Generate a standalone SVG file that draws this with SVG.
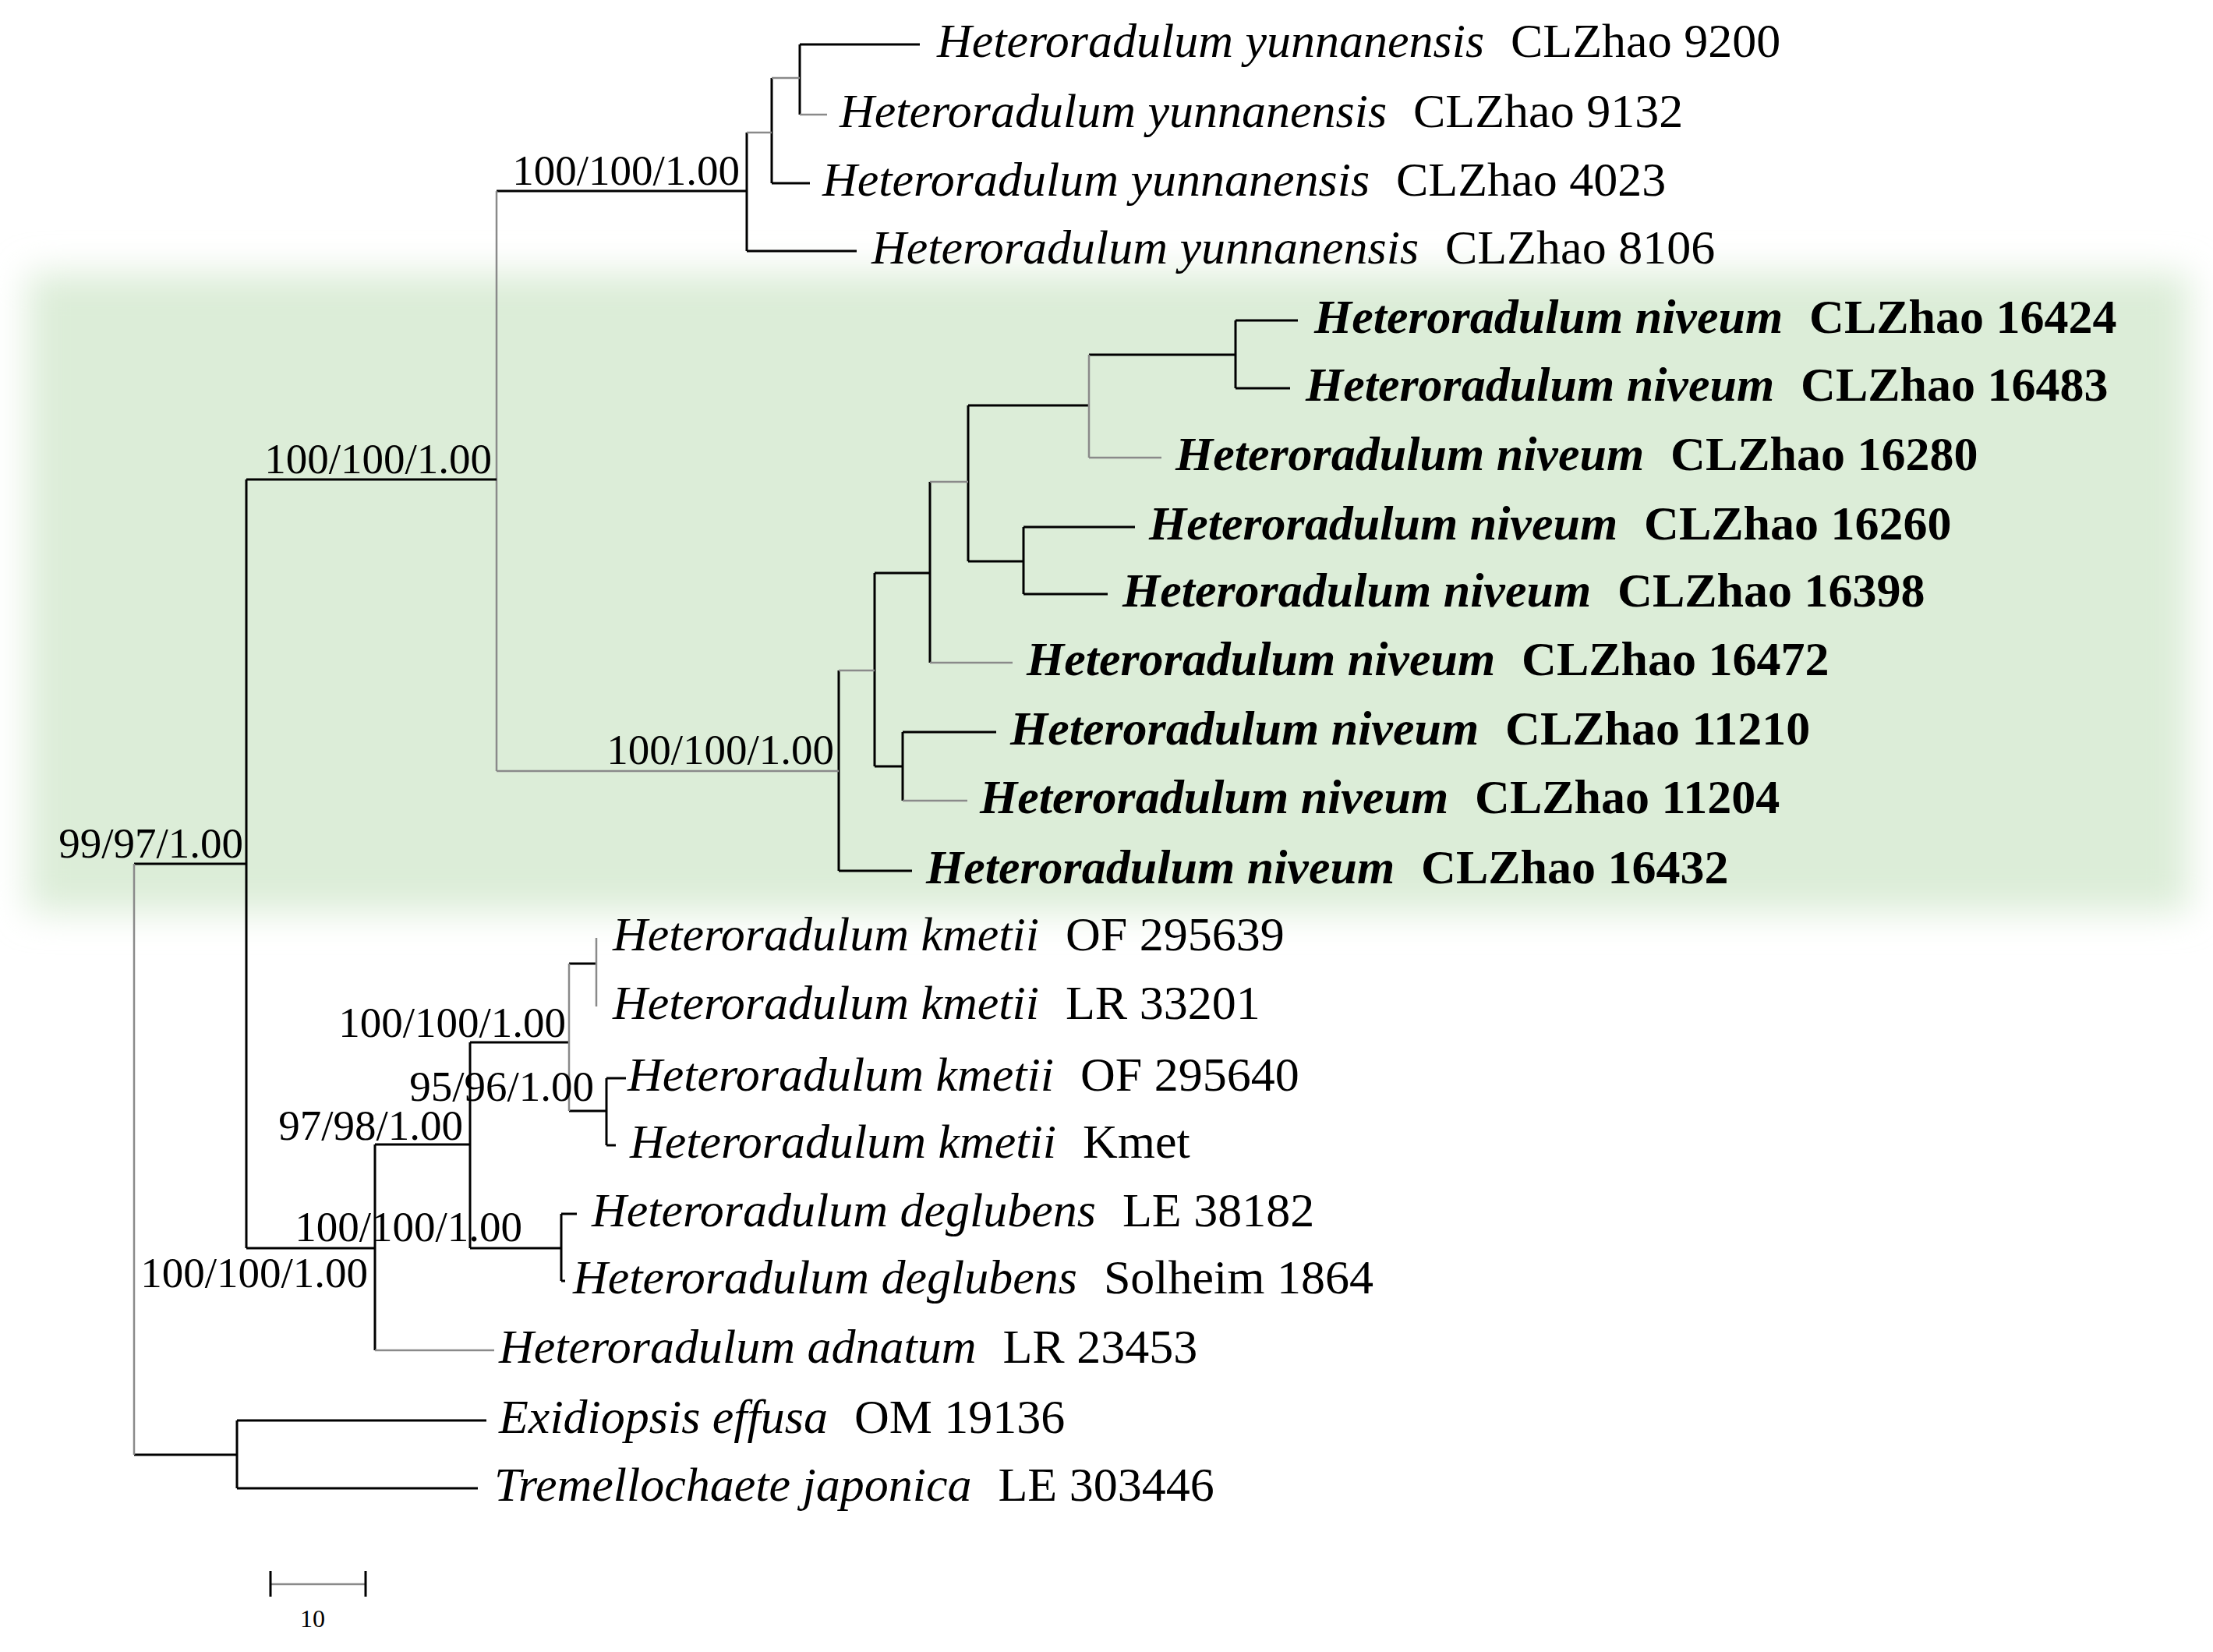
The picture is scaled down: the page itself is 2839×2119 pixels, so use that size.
<svg xmlns="http://www.w3.org/2000/svg" width="2839" height="2119" viewBox="0 0 2839 2119">
<style>
.tx{font-family:"Liberation Serif","Times New Roman",serif;font-size:62px;fill:#000}
.b{font-weight:bold}
.i{font-style:italic}
.sup{font-family:"Liberation Serif","Times New Roman",serif;font-size:55px;fill:#000;text-anchor:end}
.k{stroke:#000;stroke-width:3;fill:none}
.g{stroke:#8a8a8a;stroke-width:2.5;fill:none}
.scl{font-family:"Liberation Serif","Times New Roman",serif;font-size:32px;fill:#000;text-anchor:middle}
</style>
<defs>
<filter id="soft" x="-10%" y="-25%" width="120%" height="150%">
<feGaussianBlur stdDeviation="23"/>
</filter>
</defs>
<rect width="2839" height="2119" fill="#fff"/>
<rect id="highlight" x="36" y="350" width="2772" height="820" fill="#dcedd8" filter="url(#soft)"/>

<g id="connectors">
<path class="k" d="M1026 57H1180M1026 57V147M958 245H637M958 170V322M958 322H1099M990 235H1039M990 100V235"/>
<path class="g" d="M1026 147H1061M990 100H1026M958 170H990"/>
<path class="k" d="M1585 411H1665M1585 411V498M1585 498H1655M1397 455H1585M1242 520H1397M1313 676H1456M1313 676V762M1313 762H1421M1242 720H1313M1242 520V720M1193 735H1122M1193 618V850M1158 939H1278M1158 939V1027M1122 983H1158M1122 735V983M1076 860V1117M1076 1117H1170"/>
<path class="g" d="M1397 455V587M1397 587H1490M1193 618H1242M1193 850H1299M1158 1027H1241M1076 860H1122M637 989H1076M637 245V989"/>
<path class="k" d="M316 615H637M316 615V1601M172 1108H316M316 1601H481M481 1468V1732M481 1468H603M603 1337V1601M603 1337H730M603 1601H720M720 1557V1643M720 1557H740M720 1643H725M730 1236H765M730 1425H778M778 1383V1469M778 1383H803M778 1469H790M172 1866H304M304 1822V1909M304 1822H624M304 1909H613"/>
<path class="g" d="M765 1203V1291M730 1236V1425M481 1732H634M172 1108V1866"/>
</g>

<g id="support">
<text class="sup" x="949" y="237">100/100/1.00</text>
<text class="sup" x="631" y="607">100/100/1.00</text>
<text class="sup" x="1070" y="980">100/100/1.00</text>
<text class="sup" x="312" y="1100">99/97/1.00</text>
<text class="sup" x="726" y="1330">100/100/1.00</text>
<text class="sup" x="762" y="1412">95/96/1.00</text>
<text class="sup" x="594" y="1462">97/98/1.00</text>
<text class="sup" x="670" y="1592">100/100/1.00</text>
<text class="sup" x="472" y="1651">100/100/1.00</text>
</g>

<g id="t-yun-9200"><text class="tx" x="1202" y="73"><tspan class="i">Heteroradulum yunnanensis</tspan><tspan dx="34">CLZhao 9200</tspan></text></g>
<g id="t-yun-9132"><text class="tx" x="1077" y="163"><tspan class="i">Heteroradulum yunnanensis</tspan><tspan dx="34">CLZhao 9132</tspan></text></g>
<g id="t-yun-4023"><text class="tx" x="1055" y="251"><tspan class="i">Heteroradulum yunnanensis</tspan><tspan dx="34">CLZhao 4023</tspan></text></g>
<g id="t-yun-8106"><text class="tx" x="1118" y="338"><tspan class="i">Heteroradulum yunnanensis</tspan><tspan dx="34">CLZhao 8106</tspan></text></g>

<g id="t-niv-16424"><text class="tx b" x="1686" y="427"><tspan class="i">Heteroradulum niveum</tspan><tspan dx="34">CLZhao 16424</tspan></text></g>
<g id="t-niv-16483"><text class="tx b" x="1675" y="514"><tspan class="i">Heteroradulum niveum</tspan><tspan dx="34">CLZhao 16483</tspan></text></g>
<g id="t-niv-16280"><text class="tx b" x="1508" y="603"><tspan class="i">Heteroradulum niveum</tspan><tspan dx="34">CLZhao 16280</tspan></text></g>
<g id="t-niv-16260"><text class="tx b" x="1474" y="692"><tspan class="i">Heteroradulum niveum</tspan><tspan dx="34">CLZhao 16260</tspan></text></g>
<g id="t-niv-16398"><text class="tx b" x="1440" y="778"><tspan class="i">Heteroradulum niveum</tspan><tspan dx="34">CLZhao 16398</tspan></text></g>
<g id="t-niv-16472"><text class="tx b" x="1317" y="866"><tspan class="i">Heteroradulum niveum</tspan><tspan dx="34">CLZhao 16472</tspan></text></g>
<g id="t-niv-11210"><text class="tx b" x="1296" y="955"><tspan class="i">Heteroradulum niveum</tspan><tspan dx="34">CLZhao 11210</tspan></text></g>
<g id="t-niv-11204"><text class="tx b" x="1257" y="1043"><tspan class="i">Heteroradulum niveum</tspan><tspan dx="34">CLZhao 11204</tspan></text></g>
<g id="t-niv-16432"><text class="tx b" x="1188" y="1133"><tspan class="i">Heteroradulum niveum</tspan><tspan dx="34">CLZhao 16432</tspan></text></g>

<g id="t-kme-295639"><text class="tx" x="786" y="1219"><tspan class="i">Heteroradulum kmetii</tspan><tspan dx="34">OF 295639</tspan></text></g>
<g id="t-kme-33201"><text class="tx" x="786" y="1307"><tspan class="i">Heteroradulum kmetii</tspan><tspan dx="34">LR 33201</tspan></text></g>
<g id="t-kme-295640"><text class="tx" x="805" y="1399"><tspan class="i">Heteroradulum kmetii</tspan><tspan dx="34">OF 295640</tspan></text></g>
<g id="t-kme-kmet"><text class="tx" x="808" y="1485"><tspan class="i">Heteroradulum kmetii</tspan><tspan dx="34">Kmet</tspan></text></g>
<g id="t-deg-38182"><text class="tx" x="759" y="1573"><tspan class="i">Heteroradulum deglubens</tspan><tspan dx="34">LE 38182</tspan></text></g>
<g id="t-deg-1864"><text class="tx" x="735" y="1659"><tspan class="i">Heteroradulum deglubens</tspan><tspan dx="34">Solheim 1864</tspan></text></g>
<g id="t-adn-23453"><text class="tx" x="640" y="1748"><tspan class="i">Heteroradulum adnatum</tspan><tspan dx="34">LR 23453</tspan></text></g>
<g id="t-exi-19136"><text class="tx" x="640" y="1838"><tspan class="i">Exidiopsis effusa</tspan><tspan dx="34">OM 19136</tspan></text></g>
<g id="t-tre-303446"><text class="tx" x="634" y="1925"><tspan class="i">Tremellochaete japonica</tspan><tspan dx="34">LE 303446</tspan></text></g>

<g id="scalebar">
<path class="g" d="M347 2032H469"/>
<path class="k" stroke-width="2" d="M347 2015V2048M469 2015V2048"/>
<text class="scl" x="401" y="2087">10</text>
</g>
</svg>
